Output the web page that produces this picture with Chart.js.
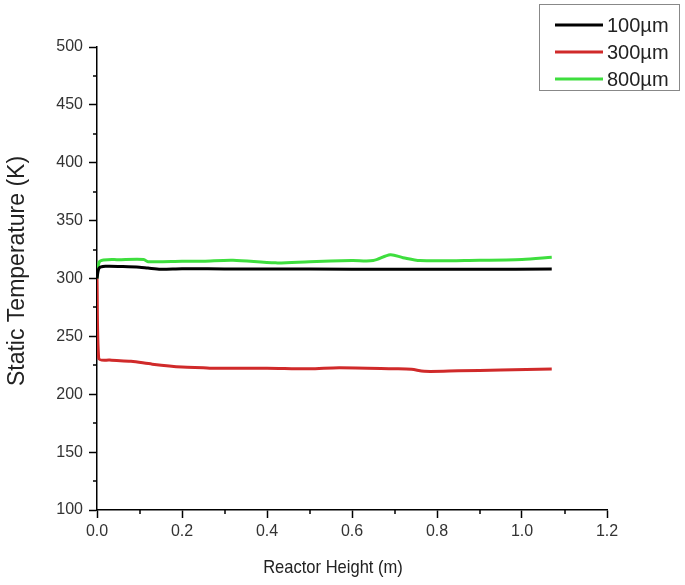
<!DOCTYPE html>
<html>
<head>
<meta charset="utf-8">
<script src="https://cdn.jsdelivr.net/npm/chart.js@4.4.0/dist/chart.umd.min.js"></script>
<style>
  html, body { margin: 0; padding: 0; background: #fff; }
  #wrap { width: 685px; height: 585px; }
</style>
</head>
<body>
<div id="wrap"><canvas id="tempChart" width="685" height="585"></canvas></div>
<script>
// Static temperature along reactor height, three particle sizes
const seriesLabels = ['100µm', '300µm', '800µm'];
const seriesColors = ['#000000', '#d02a2a', '#3ede3e'];

const heights100 = [0, 0.005, 0.02, 0.06, 0.10, 0.12, 0.15, 0.20, 0.30, 0.50, 0.70, 0.90, 1.07];
const temps100   = [300, 309, 310.5, 310.3, 309.8, 309, 308, 308.5, 308.3, 308.2, 308, 308, 308.2];

const heights300 = [0, 0.004, 0.03, 0.08, 0.13, 0.20, 0.25, 0.27, 0.40, 0.50, 0.57, 0.70, 0.74, 0.77, 0.85, 0.95, 1.07];
const temps300   = [300, 231, 229.5, 228.5, 226, 223.5, 223, 222.5, 222.5, 222, 223, 222, 221.5, 219.8, 220.2, 221, 221.8];

const heights800 = [0, 0.005, 0.015, 0.05, 0.11, 0.12, 0.20, 0.25, 0.32, 0.42, 0.50, 0.60, 0.65, 0.69, 0.72, 0.76, 0.90, 1.00, 1.07];
const temps800   = [300, 314, 316, 316.3, 316.5, 314.5, 314.8, 315, 315.8, 313.5, 314.5, 315.5, 315.5, 320.5, 318, 315.5, 315.8, 316.5, 318.3];

const xTitle = 'Reactor Height (m)';
const yTitle = 'Static Temperature (K)';

function toPoints(xs, ys) {
    return xs.map((x, i) => ({ x: x, y: ys[i] }));
}

const allSeries = [
    toPoints(heights100, temps100),
    toPoints(heights300, temps300),
    toPoints(heights800, temps800)
];

const FONT = '"Liberation Sans", Arial, sans-serif';

// short minor ticks half way between the labelled ones
const minorTicks = {
    id: 'minorTicks',
    afterDraw(chart) {
        const ctx = chart.ctx;
        const xs = chart.scales.x, ys = chart.scales.y;
        ctx.save();
        ctx.strokeStyle = '#000';
        ctx.lineWidth = 1.5;
        ctx.beginPath();
        for (let v = 0.1; v < 1.2; v += 0.2) {
            const px = Math.round(xs.getPixelForValue(v));
            ctx.moveTo(px, xs.top);
            ctx.lineTo(px, xs.top + 4);
        }
        for (let v = 125; v < 500; v += 50) {
            const py = Math.round(ys.getPixelForValue(v));
            ctx.moveTo(ys.right, py);
            ctx.lineTo(ys.right - 4, py);
        }
        ctx.stroke();
        ctx.restore();
    }
};

// axis titles placed like the original figure
const axisTitles = {
    id: 'axisTitles',
    afterDraw(chart) {
        const ctx = chart.ctx;
        ctx.save();
        ctx.fillStyle = '#222';
        ctx.textAlign = 'center';
        ctx.textBaseline = 'alphabetic';
        ctx.font = '19px ' + FONT;
        ctx.save();
        ctx.translate(333, 573);
        ctx.scale(0.87, 1);
        ctx.fillText(xTitle, 0, 0);
        ctx.restore();
        ctx.font = '23px ' + FONT;
        ctx.translate(24, 271);
        ctx.rotate(-Math.PI / 2);
        ctx.fillText(yTitle, 0, 0);
        ctx.restore();
    }
};

// boxed legend in the top right corner
const boxLegend = {
    id: 'boxLegend',
    afterDraw(chart) {
        const ctx = chart.ctx;
        ctx.save();
        ctx.strokeStyle = '#888';
        ctx.lineWidth = 1;
        ctx.strokeRect(539.5, 4.5, 140, 86);
        ctx.font = '20px ' + FONT;
        ctx.textBaseline = 'middle';
        ctx.fillStyle = '#222';
        chart.data.datasets.forEach((ds, i) => {
            const y = 25 + i * 27;
            ctx.strokeStyle = ds.borderColor;
            ctx.lineWidth = 3;
            ctx.beginPath();
            ctx.moveTo(555, y);
            ctx.lineTo(603, y);
            ctx.stroke();
            ctx.fillText(ds.label, 607, y + 1);
        });
        ctx.restore();
    }
};

const tickFont = { family: FONT, size: 16 };

new Chart(document.getElementById('tempChart'), {
    type: 'line',
    data: {
        datasets: allSeries.map((pts, i) => ({
            label: seriesLabels[i],
            data: pts,
            borderColor: seriesColors[i],
            backgroundColor: seriesColors[i],
            borderWidth: 3,
            pointRadius: 0,
            tension: 0.3,
            fill: false
        }))
    },
    options: {
        responsive: false,
        animation: false,
        layout: { padding: { top: 47, right: 78, left: 0, bottom: 0 } },
        plugins: { legend: { display: false }, tooltip: { enabled: false } },
        scales: {
            x: {
                type: 'linear',
                min: 0,
                max: 1.2,
                afterFit(scale) { scale.height = 75; },
                grid: { display: true, drawOnChartArea: false, tickLength: 8, color: '#000', tickWidth: 1.5 },
                border: { color: '#000', width: 1.5 },
                ticks: {
                    stepSize: 0.2,
                    autoSkip: false,
                    maxRotation: 0,
                    color: '#333',
                    font: tickFont,
                    padding: 4,
                    callback: (v) => v.toFixed(1)
                }
            },
            y: {
                min: 100,
                max: 500,
                afterFit(scale) { scale.width = 97; },
                grid: { display: true, drawOnChartArea: false, tickLength: 8, color: '#000', tickWidth: 1.5 },
                border: { color: '#000', width: 1.5 },
                ticks: {
                    stepSize: 50,
                    autoSkip: false,
                    color: '#333',
                    font: tickFont,
                    padding: 6
                }
            }
        }
    },
    plugins: [minorTicks, axisTitles, boxLegend]
});
</script>
</body>
</html>
